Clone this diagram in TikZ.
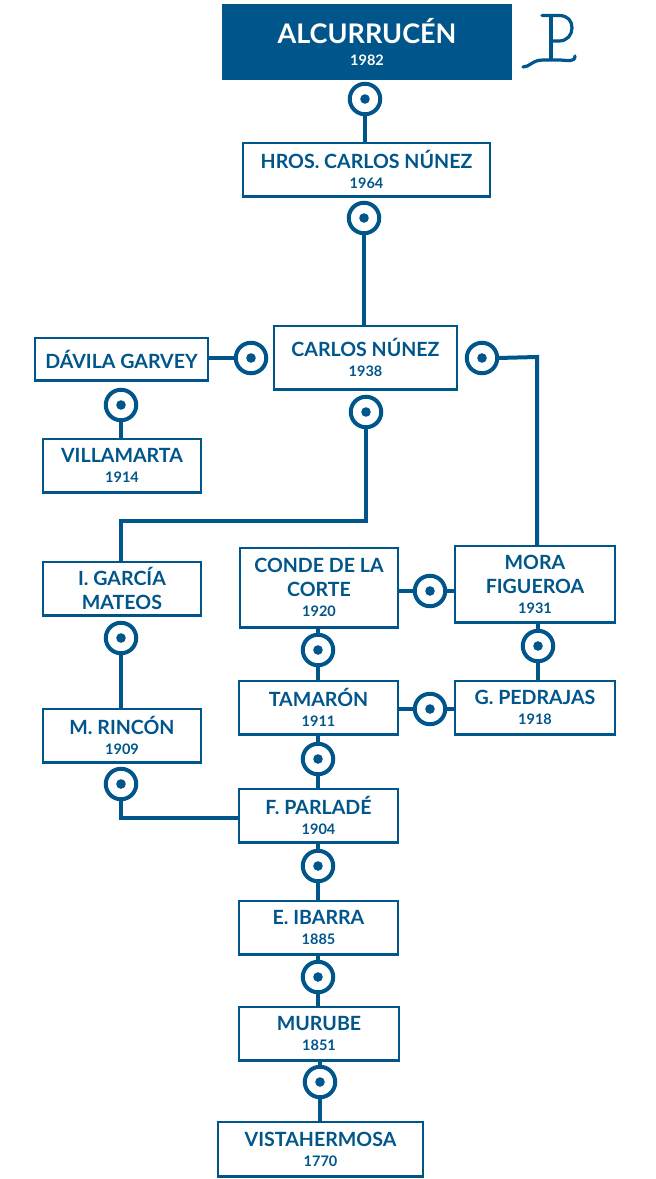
\documentclass[tikz,border=0pt]{standalone}
\usepackage{fontspec}
\setmainfont{Lato}
\definecolor{ink}{HTML}{00568B}
\tikzset{
  bx/.style={draw=ink,line width=2.6pt,fill=white,inner sep=0pt,outer sep=0pt,align=center,text=ink},
  dotc/.style={circle,draw=ink,line width=4pt,fill=white,minimum size=30.5pt,inner sep=0pt,outer sep=0pt,
    path picture={\fill[ink] (path picture bounding box.center) circle (4.8pt);}},
  link/.style={draw=ink,line width=4pt}
}
\newcommand{\yr}[1]{\\[-4pt]{\fontsize{14.5}{16}\selectfont #1}}
\newcommand{\bxnode}[6]{% name, x1,y1,x2,y2, text
  \node[bx,minimum width=#4pt-#2pt-2pt,minimum height=#5pt-#3pt-1.5pt,anchor=north west,
    font=\fontsize{19.6}{24}\selectfont\bfseries] (#1) at (#2+1,#3+1) {#6};}
\begin{document}
\begin{tikzpicture}[x=1pt,y=-1pt]
\useasboundingbox (0,0) rectangle (656,1179);
\bxnode{hros}{242}{142}{491}{197}{HROS. CARLOS NÚNEZ\yr{1964}}
\bxnode{carlos}{273}{325}{458}{390}{CARLOS NÚNEZ\yr{1938}}
\bxnode{davila}{34}{337}{209}{381}{DÁVILA GARVEY}
\bxnode{villa}{42}{438}{202}{493}{VILLAMARTA\yr{1914}}
\bxnode{garcia}{42}{561}{202}{616}{I. GARCÍA\\MATEOS}
\bxnode{conde}{239}{547}{399}{628}{CONDE DE LA\\CORTE\yr{1920}}
\bxnode{mora}{454}{545}{616}{623}{MORA\\FIGUEROA\yr{1931}}
\bxnode{tamaron}{238}{680}{399}{735}{TAMARÓN\yr{1911}}
\bxnode{pedrajas}{454}{680}{616}{735}{G. PEDRAJAS\yr{1918}}
\bxnode{rincon}{42}{708}{202}{763}{M. RINCÓN\yr{1909}}
\bxnode{parlade}{238}{788}{399}{843}{F. PARLADÉ\yr{1904}}
\bxnode{ibarra}{238}{900}{399}{955}{E. IBARRA\yr{1885}}
\bxnode{murube}{238}{1006}{400}{1061}{MURUBE\yr{1851}}
\bxnode{vista}{217}{1121}{424}{1177}{VISTAHERMOSA\yr{1770}}
\node[anchor=north west,fill=ink,text=white,align=center,inner sep=0pt,outer sep=0pt,
  minimum width=290pt,minimum height=76pt,font=\fontsize{27}{28}\selectfont\bfseries] (alc) at (222,4)
  {ALCURRUCÉN\\[-6pt]{\fontsize{14.5}{16}\selectfont 1982}};
\foreach \n/\x/\y in {c1/365/99,c2/364/218,c3/251/358,c4/121/405,c5/366/412,c6/482/358,
  c7/121/638,c8/318/650,c9/430/591,c10/538/646,c11/430/709,c12/318/759,c13/121/784,
  c14/318/866,c15/318/977,c16/320/1082}
  \node[dotc] (\n) at (\x,\y) {};
\coordinate (bendg) at (366,520.5);
\coordinate (bendm) at (537,357);
\coordinate (endm) at (537,546);
\coordinate (endp) at (239,817.5);
\draw[link] (c1.south) -- (c1.south |- hros.north);
\draw[link] (c2.south) -- (c2.south |- carlos.north);
\draw[link] (c3.west) -- (c3.west -| davila.east);
\draw[link] (c4.south) -- (c4.south |- villa.north);
\draw[link] (c5.south) -- (bendg) -| (c7 |- garcia.north);
\draw[link] (c6.east) -- (bendm) -- (endm);
\draw[link] (c7.south) -- (c7.south |- rincon.north);
\draw[link] (c8.south) -- (c8.south |- tamaron.north);
\draw[link] (c8.north) -- (c8.north |- conde.south);
\draw[link] (c9.west) -- (c9.west -| conde.east);
\draw[link] (c9.east) -- (c9.east -| mora.west);
\draw[link] (c10.north) -- (c10.north |- mora.south);
\draw[link] (c10.south) -- (c10.south |- pedrajas.north);
\draw[link] (c11.west) -- (c11.west -| tamaron.east);
\draw[link] (c11.east) -- (c11.east -| pedrajas.west);
\draw[link] (c12.north) -- (c12.north |- tamaron.south);
\draw[link] (c12.south) -- (c12.south |- parlade.north);
\draw[link] (c13.south) |- (endp);
\draw[link] (c14.north) -- (c14.north |- parlade.south);
\draw[link] (c14.south) -- (c14.south |- ibarra.north);
\draw[link] (c15.north) -- (c15.north |- ibarra.south);
\draw[link] (c15.south) -- (c15.south |- murube.north);
\draw[link] (c16.north) -- (c16.north |- murube.south);
\draw[link] (c16.south) -- (c16.south |- vista.north);
% monogram
\draw[ink,line width=3.2pt,line cap=round,line join=round]
  (542,15.5) -- (559,15.5) .. controls (568,15.5) and (572,21) .. (572,28)
  .. controls (572,35) and (567,41) .. (559,41) -- (551,41);
\draw[ink,line width=3.2pt,line join=round] (551,15.5) -- (551,60);
\draw[ink,line width=3.2pt,line cap=round,line join=round]
  (523,67) .. controls (530,67) and (532,60) .. (543,60)
  -- (560,60) .. controls (566,60) and (575,63) .. (575,56);
\end{tikzpicture}
\end{document}
